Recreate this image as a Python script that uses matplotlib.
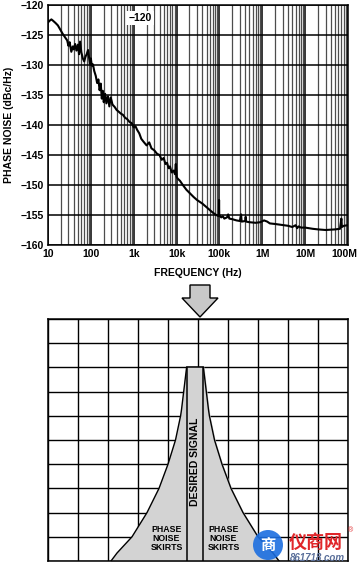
import matplotlib
matplotlib.use("Agg")
import matplotlib.pyplot as plt
import matplotlib.transforms as mtransforms
from matplotlib.patches import Polygon, Rectangle, Circle
from matplotlib.ticker import FixedLocator, LogLocator, NullFormatter

plt.rcParams['font.family'] = ['Liberation Sans', 'DejaVu Sans']

# phase noise trace (Hz, dBc/Hz)
freq = [10, 11, 12, 13, 15, 17, 19, 22, 25, 28, 30, 32, 35, 38, 40, 43, 46, 50,
        53, 56, 60, 65, 70, 75, 80, 86, 90, 95, 100, 105, 112, 120, 130, 140,
        150, 160, 170, 180, 190, 200, 215, 230, 250, 270, 290, 320, 360, 400,
        450, 500, 560, 630, 700, 800, 900, 1000, 1100, 1200, 1350, 1500, 1700,
        2000, 2300, 2600, 3000, 3500, 4000, 4500, 5000, 5500, 6000, 6500, 7000,
        7700, 8500, 9200, 9600, 10000, 10500, 12000, 14000, 17000, 20000,
        25000, 30000, 40000, 50000, 60000, 70000, 80000, 90000, 97000, 98000,
        99000, 110000, 120000, 130000, 150000, 160000, 170000, 200000, 250000,
        300000, 320000, 330000, 400000, 410000, 420000, 500000, 700000, 900000,
        1.1e6, 1.3e6, 1.5e6, 2e6, 2.5e6, 3e6, 4e6, 5e6, 6e6, 6.5e6, 7e6, 8e6,
        1e7, 1.5e7, 2e7, 3e7, 5e7, 6.5e7, 7e7, 7.2e7, 8e7, 1e8]
noise = [-122.9, -122.6, -122.4, -122.6, -123.0, -123.4, -124.0, -124.8, -125.4,
         -125.9, -126.8, -126.2, -127.8, -126.9, -127.4, -126.5, -127.6, -126.6,
         -128.2, -126.1, -127.9, -128.9, -129.4, -128.6, -128.2, -127.5, -128.6,
         -129.8, -128.9, -130.1, -129.9, -131.0, -131.8, -133.0, -132.4, -134.2,
         -133.1, -135.6, -134.3, -136.2, -134.8, -136.4, -135.2, -136.9, -135.4,
         -136.6, -137.0, -137.5, -137.8, -138.1, -138.3, -138.8, -139.0, -139.5,
         -139.7, -140.4, -140.2, -140.8, -141.4, -142.3, -142.8, -143.4, -142.9,
         -143.9, -144.2, -144.8, -145.0, -145.8, -145.5, -146.5, -146.3, -147.2,
         -146.9, -147.9, -147.6, -148.2, -146.5, -148.6, -148.9, -149.3, -150.0,
         -150.8, -151.3, -152.0, -152.5, -153.1, -153.7, -154.2, -154.6, -154.9,
         -155.1, -155.2, -152.5, -155.0, -155.4, -155.2, -155.6, -155.4, -154.9,
         -155.6, -155.7, -155.9, -156.0, -154.9, -156.1, -156.0, -155.3, -156.1,
         -156.2, -156.3, -156.2, -155.9, -156.1, -156.4, -156.5, -156.6, -156.7,
         -156.8, -157.0, -156.7, -157.2, -156.9, -157.1, -157.1, -157.3, -157.4,
         -157.5, -157.4, -157.3, -155.6, -157.0, -156.8, -156.7]

x_ticks = [10, 100, 1e3, 1e4, 1e5, 1e6, 1e7, 1e8]
x_labels = ['10', '100', '1k', '10k', '100k', '1M', '10M', '100M']
y_ticks = [-160, -155, -150, -145, -140, -135, -130, -125, -120]

# spectrum sketch: skirt half-width (grid columns) vs height (grid rows)
skirt_level = [0, 0.33, 1, 2, 3, 4, 5, 6, 6.25, 8]
skirt_width = [2.8, 2.6, 2.1, 1.6, 1.2, 0.9, 0.65, 0.48, 0.45, 0.28]
carrier_x = 4.9
carrier_half = 0.27
carrier_top = 8

fig = plt.figure(figsize=(3.57, 5.65), dpi=100)

# ---- top: phase noise plot
ax = fig.add_axes([48 / 357, 1 - 245 / 565, 300 / 357, 240 / 565])
ax.set_xscale('log')
ax.set_xlim(10, 1e8)
ax.set_ylim(-160, -120)
ax.xaxis.set_minor_locator(LogLocator(base=10, subs=range(2, 10)))
ax.xaxis.set_minor_formatter(NullFormatter())
ax.xaxis.set_major_locator(FixedLocator(x_ticks))
ax.set_xticklabels(x_labels)
ax.set_yticks(y_ticks)
ax.set_yticklabels(['\u2212%d' % abs(v) for v in y_ticks])
ax.grid(which='major', axis='both', color='black', lw=1.1)
ax.grid(which='minor', axis='x', color='0.3', lw=0.9)
ax.tick_params(which='both', length=0, labelsize=7.5, pad=3)
for lab in ax.get_xticklabels() + ax.get_yticklabels():
    lab.set_fontweight('bold')
# last label sits at the figure edge, nudge it in a little
last = ax.get_xticklabels()[-1]
last.set_transform(last.get_transform() +
                   mtransforms.ScaledTranslation(-4 / 100, 0, fig.dpi_scale_trans))
for s in ax.spines.values():
    s.set_color('black')
    s.set_linewidth(1.1)
ax.plot(freq, noise, color='black', lw=1.5, zorder=3)
ax.text(1400, -122.2, '\u2212120', fontsize=7.5, ha='center', va='center',
        fontweight='bold', zorder=4,
        bbox=dict(facecolor='white', edgecolor='none', pad=1.5))
ax.set_xlabel('FREQUENCY (Hz)', fontsize=7.5, fontweight='bold', labelpad=6)
ax.set_ylabel('PHASE NOISE (dBc/Hz)', fontsize=7.5, fontweight='bold', labelpad=5)

# ---- bottom: spectrum sketch
bx = fig.add_axes([48 / 357, 4 / 565, 300 / 357, 242 / 565])
bx.set_xlim(0, 10)
bx.set_ylim(0, 10)
bx.set_xticks(range(11))
bx.set_yticks(range(11))
bx.tick_params(length=0, labelbottom=False, labelleft=False)
bx.grid(color='black', lw=1.0, zorder=0)
bx.set_axisbelow(True)
for s in bx.spines.values():
    s.set_linewidth(1.1)

left = [carrier_x - w for w in skirt_width]
right = [carrier_x + w for w in skirt_width]
bx.fill_betweenx(skirt_level, left, right, color='#d3d3d3', zorder=2)
bx.plot(left, skirt_level, color='black', lw=1.0, zorder=3)
bx.plot(right, skirt_level, color='black', lw=1.0, zorder=3)
bx.add_patch(Rectangle((carrier_x - carrier_half, 0), 2 * carrier_half, carrier_top,
                       facecolor='#d3d3d3', edgecolor='black', lw=1.1, zorder=4))
bx.text(carrier_x, 4.1, 'DESIRED SIGNAL', rotation=90, ha='center', va='center',
        fontsize=7.5, fontweight='bold', zorder=5)
bx.text(carrier_x - 0.95, 0.95, 'PHASE\nNOISE\nSKIRTS', ha='center', va='center',
        fontsize=6.3, fontweight='bold', linespacing=1.0, zorder=5)
bx.text(carrier_x + 0.95, 0.95, 'PHASE\nNOISE\nSKIRTS', ha='center', va='center',
        fontsize=6.3, fontweight='bold', linespacing=1.0, zorder=5)

# ---- overlay in pixel coordinates: arrow and watermark
ov = fig.add_axes([0, 0, 1, 1])
ov.set_xlim(0, 357)
ov.set_ylim(565, 0)
ov.axis('off')
ov.add_patch(Polygon([(190, 285), (210, 285), (210, 298), (218, 298), (200, 317),
                      (182, 298), (190, 298)], closed=True,
                     facecolor='#c8c8c8', edgecolor='black', lw=1.0))
ov.add_patch(Circle((268, 545), 15, facecolor='#1c6ee0', edgecolor='none', alpha=0.9))
ov.text(268, 545, '商', color='white', fontsize=11, fontweight='bold',
        ha='center', va='center', family=['Noto Sans CJK SC', 'DejaVu Sans'])
ov.text(316, 542, '仪商网', color='#e0262a', fontsize=13, fontweight='bold',
        ha='center', va='center', family=['Noto Sans CJK SC', 'DejaVu Sans'])
ov.text(317, 558, '861718.com', color='#5a6f9a', fontsize=7, style='italic',
        fontweight='bold', ha='center', va='center')
ov.text(351, 531, '®', color='#e0262a', fontsize=5, ha='center', va='center')

fig.savefig('out.png', dpi=100)
